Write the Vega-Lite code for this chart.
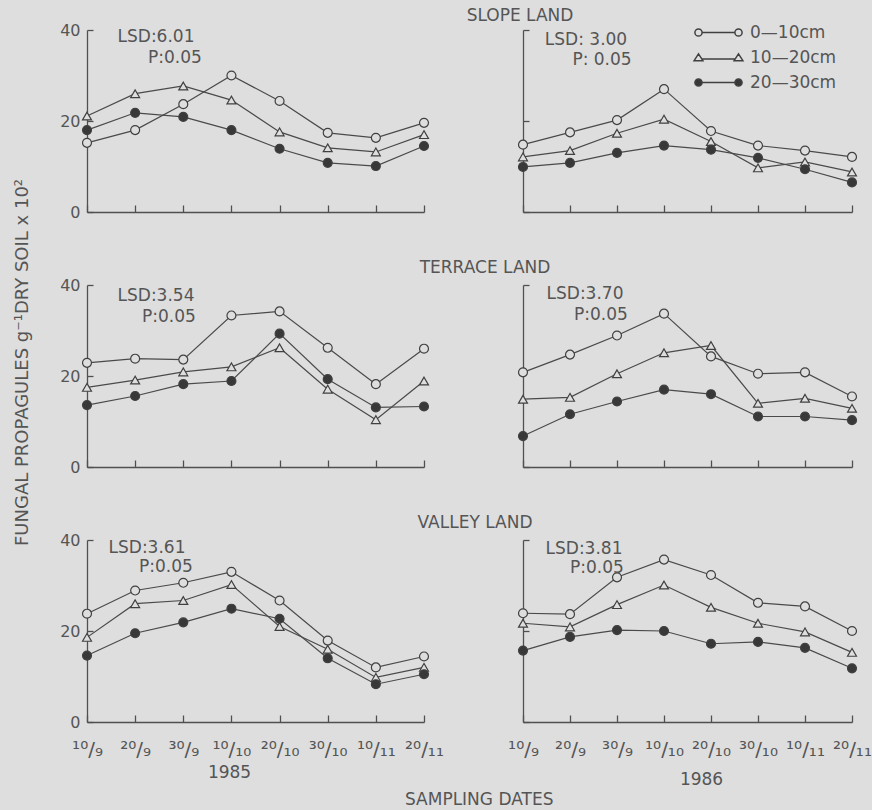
{
"$schema":"https://vega.github.io/schema/vega-lite/v6.json",
"background":"#dedede",
"padding":{"left":12,"top":7,"right":2,"bottom":2},
"datasets":{
"obs":[
{"land":"SLOPE","year":1985,"depth":"0—10cm","date":"10/9","v":15.2},{"land":"SLOPE","year":1985,"depth":"0—10cm","date":"20/9","v":18.0},{"land":"SLOPE","year":1985,"depth":"0—10cm","date":"30/9","v":23.7},{"land":"SLOPE","year":1985,"depth":"0—10cm","date":"10/10","v":30.0},{"land":"SLOPE","year":1985,"depth":"0—10cm","date":"20/10","v":24.4},{"land":"SLOPE","year":1985,"depth":"0—10cm","date":"30/10","v":17.4},{"land":"SLOPE","year":1985,"depth":"0—10cm","date":"10/11","v":16.3},{"land":"SLOPE","year":1985,"depth":"0—10cm","date":"20/11","v":19.6},
{"land":"SLOPE","year":1985,"depth":"10—20cm","date":"10/9","v":21.1},{"land":"SLOPE","year":1985,"depth":"10—20cm","date":"20/9","v":26.0},{"land":"SLOPE","year":1985,"depth":"10—20cm","date":"30/9","v":27.7},{"land":"SLOPE","year":1985,"depth":"10—20cm","date":"10/10","v":24.6},{"land":"SLOPE","year":1985,"depth":"10—20cm","date":"20/10","v":17.6},{"land":"SLOPE","year":1985,"depth":"10—20cm","date":"30/10","v":14.1},{"land":"SLOPE","year":1985,"depth":"10—20cm","date":"10/11","v":13.2},{"land":"SLOPE","year":1985,"depth":"10—20cm","date":"20/11","v":17.0},
{"land":"SLOPE","year":1985,"depth":"20—30cm","date":"10/9","v":18.0},{"land":"SLOPE","year":1985,"depth":"20—30cm","date":"20/9","v":21.8},{"land":"SLOPE","year":1985,"depth":"20—30cm","date":"30/9","v":20.9},{"land":"SLOPE","year":1985,"depth":"20—30cm","date":"10/10","v":18.0},{"land":"SLOPE","year":1985,"depth":"20—30cm","date":"20/10","v":13.9},{"land":"SLOPE","year":1985,"depth":"20—30cm","date":"30/10","v":10.8},{"land":"SLOPE","year":1985,"depth":"20—30cm","date":"10/11","v":10.1},{"land":"SLOPE","year":1985,"depth":"20—30cm","date":"20/11","v":14.5},
{"land":"SLOPE","year":1986,"depth":"0—10cm","date":"10/9","v":14.8},{"land":"SLOPE","year":1986,"depth":"0—10cm","date":"20/9","v":17.5},{"land":"SLOPE","year":1986,"depth":"0—10cm","date":"30/9","v":20.2},{"land":"SLOPE","year":1986,"depth":"0—10cm","date":"10/10","v":27.0},{"land":"SLOPE","year":1986,"depth":"0—10cm","date":"20/10","v":17.8},{"land":"SLOPE","year":1986,"depth":"0—10cm","date":"30/10","v":14.6},{"land":"SLOPE","year":1986,"depth":"0—10cm","date":"10/11","v":13.5},{"land":"SLOPE","year":1986,"depth":"0—10cm","date":"20/11","v":12.1},
{"land":"SLOPE","year":1986,"depth":"10—20cm","date":"10/9","v":12.1},{"land":"SLOPE","year":1986,"depth":"10—20cm","date":"20/9","v":13.5},{"land":"SLOPE","year":1986,"depth":"10—20cm","date":"30/9","v":17.3},{"land":"SLOPE","year":1986,"depth":"10—20cm","date":"10/10","v":20.4},{"land":"SLOPE","year":1986,"depth":"10—20cm","date":"20/10","v":15.5},{"land":"SLOPE","year":1986,"depth":"10—20cm","date":"30/10","v":9.7},{"land":"SLOPE","year":1986,"depth":"10—20cm","date":"10/11","v":11.0},{"land":"SLOPE","year":1986,"depth":"10—20cm","date":"20/11","v":8.8},
{"land":"SLOPE","year":1986,"depth":"20—30cm","date":"10/9","v":9.9},{"land":"SLOPE","year":1986,"depth":"20—30cm","date":"20/9","v":10.8},{"land":"SLOPE","year":1986,"depth":"20—30cm","date":"30/9","v":13.0},{"land":"SLOPE","year":1986,"depth":"20—30cm","date":"10/10","v":14.6},{"land":"SLOPE","year":1986,"depth":"20—30cm","date":"20/10","v":13.7},{"land":"SLOPE","year":1986,"depth":"20—30cm","date":"30/10","v":11.9},{"land":"SLOPE","year":1986,"depth":"20—30cm","date":"10/11","v":9.4},{"land":"SLOPE","year":1986,"depth":"20—30cm","date":"20/11","v":6.5},
{"land":"TERRACE","year":1985,"depth":"0—10cm","date":"10/9","v":22.9},{"land":"TERRACE","year":1985,"depth":"0—10cm","date":"20/9","v":23.8},{"land":"TERRACE","year":1985,"depth":"0—10cm","date":"30/9","v":23.6},{"land":"TERRACE","year":1985,"depth":"0—10cm","date":"10/10","v":33.3},{"land":"TERRACE","year":1985,"depth":"0—10cm","date":"20/10","v":34.2},{"land":"TERRACE","year":1985,"depth":"0—10cm","date":"30/10","v":26.2},{"land":"TERRACE","year":1985,"depth":"0—10cm","date":"10/11","v":18.2},{"land":"TERRACE","year":1985,"depth":"0—10cm","date":"20/11","v":26.0},
{"land":"TERRACE","year":1985,"depth":"10—20cm","date":"10/9","v":17.5},{"land":"TERRACE","year":1985,"depth":"10—20cm","date":"20/9","v":19.1},{"land":"TERRACE","year":1985,"depth":"10—20cm","date":"30/9","v":20.9},{"land":"TERRACE","year":1985,"depth":"10—20cm","date":"10/10","v":22.0},{"land":"TERRACE","year":1985,"depth":"10—20cm","date":"20/10","v":26.2},{"land":"TERRACE","year":1985,"depth":"10—20cm","date":"30/10","v":17.1},{"land":"TERRACE","year":1985,"depth":"10—20cm","date":"10/11","v":10.4},{"land":"TERRACE","year":1985,"depth":"10—20cm","date":"20/11","v":18.9},
{"land":"TERRACE","year":1985,"depth":"20—30cm","date":"10/9","v":13.6},{"land":"TERRACE","year":1985,"depth":"20—30cm","date":"20/9","v":15.6},{"land":"TERRACE","year":1985,"depth":"20—30cm","date":"30/9","v":18.2},{"land":"TERRACE","year":1985,"depth":"20—30cm","date":"10/10","v":18.9},{"land":"TERRACE","year":1985,"depth":"20—30cm","date":"20/10","v":29.3},{"land":"TERRACE","year":1985,"depth":"20—30cm","date":"30/10","v":19.3},{"land":"TERRACE","year":1985,"depth":"20—30cm","date":"10/11","v":13.1},{"land":"TERRACE","year":1985,"depth":"20—30cm","date":"20/11","v":13.3},
{"land":"TERRACE","year":1986,"depth":"0—10cm","date":"10/9","v":20.8},{"land":"TERRACE","year":1986,"depth":"0—10cm","date":"20/9","v":24.7},{"land":"TERRACE","year":1986,"depth":"0—10cm","date":"30/9","v":28.9},{"land":"TERRACE","year":1986,"depth":"0—10cm","date":"10/10","v":33.7},{"land":"TERRACE","year":1986,"depth":"0—10cm","date":"20/10","v":24.3},{"land":"TERRACE","year":1986,"depth":"0—10cm","date":"30/10","v":20.5},{"land":"TERRACE","year":1986,"depth":"0—10cm","date":"10/11","v":20.8},{"land":"TERRACE","year":1986,"depth":"0—10cm","date":"20/11","v":15.5},
{"land":"TERRACE","year":1986,"depth":"10—20cm","date":"10/9","v":14.9},{"land":"TERRACE","year":1986,"depth":"10—20cm","date":"20/9","v":15.3},{"land":"TERRACE","year":1986,"depth":"10—20cm","date":"30/9","v":20.5},{"land":"TERRACE","year":1986,"depth":"10—20cm","date":"10/10","v":25.1},{"land":"TERRACE","year":1986,"depth":"10—20cm","date":"20/10","v":26.7},{"land":"TERRACE","year":1986,"depth":"10—20cm","date":"30/10","v":14.0},{"land":"TERRACE","year":1986,"depth":"10—20cm","date":"10/11","v":15.1},{"land":"TERRACE","year":1986,"depth":"10—20cm","date":"20/11","v":12.9},
{"land":"TERRACE","year":1986,"depth":"20—30cm","date":"10/9","v":6.8},{"land":"TERRACE","year":1986,"depth":"20—30cm","date":"20/9","v":11.6},{"land":"TERRACE","year":1986,"depth":"20—30cm","date":"30/9","v":14.4},{"land":"TERRACE","year":1986,"depth":"20—30cm","date":"10/10","v":17.0},{"land":"TERRACE","year":1986,"depth":"20—30cm","date":"20/10","v":16.0},{"land":"TERRACE","year":1986,"depth":"20—30cm","date":"30/10","v":11.1},{"land":"TERRACE","year":1986,"depth":"20—30cm","date":"10/11","v":11.1},{"land":"TERRACE","year":1986,"depth":"20—30cm","date":"20/11","v":10.3},
{"land":"VALLEY","year":1985,"depth":"0—10cm","date":"10/9","v":23.8},{"land":"VALLEY","year":1985,"depth":"0—10cm","date":"20/9","v":28.9},{"land":"VALLEY","year":1985,"depth":"0—10cm","date":"30/9","v":30.6},{"land":"VALLEY","year":1985,"depth":"0—10cm","date":"10/10","v":33.0},{"land":"VALLEY","year":1985,"depth":"0—10cm","date":"20/10","v":26.7},{"land":"VALLEY","year":1985,"depth":"0—10cm","date":"30/10","v":17.9},{"land":"VALLEY","year":1985,"depth":"0—10cm","date":"10/11","v":12.0},{"land":"VALLEY","year":1985,"depth":"0—10cm","date":"20/11","v":14.4},
{"land":"VALLEY","year":1985,"depth":"10—20cm","date":"10/9","v":18.6},{"land":"VALLEY","year":1985,"depth":"10—20cm","date":"20/9","v":26.0},{"land":"VALLEY","year":1985,"depth":"10—20cm","date":"30/9","v":26.7},{"land":"VALLEY","year":1985,"depth":"10—20cm","date":"10/10","v":30.2},{"land":"VALLEY","year":1985,"depth":"10—20cm","date":"20/10","v":21.0},{"land":"VALLEY","year":1985,"depth":"10—20cm","date":"30/10","v":16.0},{"land":"VALLEY","year":1985,"depth":"10—20cm","date":"10/11","v":9.8},{"land":"VALLEY","year":1985,"depth":"10—20cm","date":"20/11","v":12.0},
{"land":"VALLEY","year":1985,"depth":"20—30cm","date":"10/9","v":14.6},{"land":"VALLEY","year":1985,"depth":"20—30cm","date":"20/9","v":19.5},{"land":"VALLEY","year":1985,"depth":"20—30cm","date":"30/9","v":21.9},{"land":"VALLEY","year":1985,"depth":"20—30cm","date":"10/10","v":24.9},{"land":"VALLEY","year":1985,"depth":"20—30cm","date":"20/10","v":22.7},{"land":"VALLEY","year":1985,"depth":"20—30cm","date":"30/10","v":14.0},{"land":"VALLEY","year":1985,"depth":"20—30cm","date":"10/11","v":8.3},{"land":"VALLEY","year":1985,"depth":"20—30cm","date":"20/11","v":10.5},
{"land":"VALLEY","year":1986,"depth":"0—10cm","date":"10/9","v":23.9},{"land":"VALLEY","year":1986,"depth":"0—10cm","date":"20/9","v":23.7},{"land":"VALLEY","year":1986,"depth":"0—10cm","date":"30/9","v":31.8},{"land":"VALLEY","year":1986,"depth":"0—10cm","date":"10/10","v":35.7},{"land":"VALLEY","year":1986,"depth":"0—10cm","date":"20/10","v":32.3},{"land":"VALLEY","year":1986,"depth":"0—10cm","date":"30/10","v":26.2},{"land":"VALLEY","year":1986,"depth":"0—10cm","date":"10/11","v":25.4},{"land":"VALLEY","year":1986,"depth":"0—10cm","date":"20/11","v":20.0},
{"land":"VALLEY","year":1986,"depth":"10—20cm","date":"10/9","v":21.7},{"land":"VALLEY","year":1986,"depth":"10—20cm","date":"20/9","v":20.9},{"land":"VALLEY","year":1986,"depth":"10—20cm","date":"30/9","v":25.8},{"land":"VALLEY","year":1986,"depth":"10—20cm","date":"10/10","v":30.1},{"land":"VALLEY","year":1986,"depth":"10—20cm","date":"20/10","v":25.2},{"land":"VALLEY","year":1986,"depth":"10—20cm","date":"30/10","v":21.7},{"land":"VALLEY","year":1986,"depth":"10—20cm","date":"10/11","v":19.8},{"land":"VALLEY","year":1986,"depth":"10—20cm","date":"20/11","v":15.3},
{"land":"VALLEY","year":1986,"depth":"20—30cm","date":"10/9","v":15.7},{"land":"VALLEY","year":1986,"depth":"20—30cm","date":"20/9","v":18.7},{"land":"VALLEY","year":1986,"depth":"20—30cm","date":"30/9","v":20.2},{"land":"VALLEY","year":1986,"depth":"20—30cm","date":"10/10","v":20.0},{"land":"VALLEY","year":1986,"depth":"20—30cm","date":"20/10","v":17.2},{"land":"VALLEY","year":1986,"depth":"20—30cm","date":"30/10","v":17.6},{"land":"VALLEY","year":1986,"depth":"20—30cm","date":"10/11","v":16.3},{"land":"VALLEY","year":1986,"depth":"20—30cm","date":"20/11","v":11.8}
],
"notes":[
{"land":"SLOPE","year":1985,"lsd":"LSD:6.01","p":"P:0.05"},
{"land":"SLOPE","year":1986,"lsd":"LSD: 3.00","p":"P: 0.05"},
{"land":"TERRACE","year":1985,"lsd":"LSD:3.54","p":"P:0.05"},
{"land":"TERRACE","year":1986,"lsd":"LSD:3.70","p":"P:0.05"},
{"land":"VALLEY","year":1985,"lsd":"LSD:3.61","p":"P:0.05"},
{"land":"VALLEY","year":1986,"lsd":"LSD:3.81","p":"P:0.05"}
]
},
"title":{"text":"SAMPLING DATES","orient":"bottom","anchor":"middle","dx":37,"offset":5},
"columns":2,
"spacing":{"row":73,"column":99},
"bounds":"flush",
"concat":[
{"width":337,"height":182,
"layer":[
{"data":{"name":"obs"},"transform":[{"filter":"datum.land==='SLOPE' && datum.year===1985"}],
"mark":{"type":"line","stroke":"#4a4a4a","strokeWidth":1.2},
"encoding":{"x":{"field":"date","type":"ordinal","scale":{"type":"point","padding":0,"domain":["10/9","20/9","30/9","10/10","20/10","30/10","10/11","20/11"]},"axis":{"labels":false,"title":null}},
"y":{"field":"v","type":"quantitative","scale":{"domain":[0,40]},"axis":{"values":[0,20,40],"title":null}},
"detail":{"field":"depth"}}},
{"data":{"name":"obs"},"transform":[{"filter":"datum.land==='SLOPE' && datum.year===1985"}],
"mark":{"type":"point","filled":true,"size":80,"stroke":"#404040","strokeWidth":1.2,"opacity":1},
"encoding":{"x":{"field":"date","type":"ordinal"},"y":{"field":"v","type":"quantitative"},
"shape":{"condition":{"test":"datum.depth === '10—20cm'","value":"triangle-up"},"value":"circle"},
"fill":{"field":"depth","type":"nominal","scale":{"domain":["0—10cm","10—20cm","20—30cm"],"range":["#dedede","#dedede","#383838"]},"legend":{"orient":"none","legendX":623,"legendY":-6,"title":null,"padding":0,"symbolSize":64,"labelOffset":23,"rowPadding":7,"labelFontSize":17,"labelColor":"#555","encode":{"symbols":{"size":{"value":64},"stroke":{"value":"#404040"},"strokeWidth":{"value":1.2}}}}}}},
{"data":{"name":"notes"},"transform":[{"filter":"datum.land==='SLOPE' && datum.year===1985"}],"mark":{"type":"text","align":"center","baseline":"top","dx":69,"dy":-1,"fontSize":17,"fill":"#555"},"encoding":{"x":{"datum":"10/9","type":"ordinal"},"y":{"datum":40,"type":"quantitative"},"text":{"field":"lsd"}}},
{"data":{"name":"notes"},"transform":[{"filter":"datum.land==='SLOPE' && datum.year===1985"}],"mark":{"type":"text","align":"center","baseline":"top","dx":88,"dy":20,"fontSize":17,"fill":"#555"},"encoding":{"x":{"datum":"10/9","type":"ordinal"},"y":{"datum":40,"type":"quantitative"},"text":{"field":"p"}}}
]},
{"width":329,"height":182,
"title":{"text":"SLOPE LAND","frame":"group","anchor":"start","align":"center","dx":-3,"offset":4},
"layer":[
{"data":{"name":"obs"},"transform":[{"filter":"datum.land==='SLOPE' && datum.year===1986"}],
"mark":{"type":"line","stroke":"#4a4a4a","strokeWidth":1.2},
"encoding":{"x":{"field":"date","type":"ordinal","scale":{"type":"point","padding":0,"domain":["10/9","20/9","30/9","10/10","20/10","30/10","10/11","20/11"]},"axis":{"labels":false,"title":null}},
"y":{"field":"v","type":"quantitative","scale":{"domain":[0,40]},"axis":{"values":[0,20,40],"labels":false,"title":null}},
"detail":{"field":"depth"}}},
{"data":{"name":"obs"},"transform":[{"filter":"datum.land==='SLOPE' && datum.year===1986"}],
"mark":{"type":"point","filled":true,"size":80,"stroke":"#404040","strokeWidth":1.2,"opacity":1},
"encoding":{"x":{"field":"date","type":"ordinal"},"y":{"field":"v","type":"quantitative"},
"shape":{"condition":{"test":"datum.depth === '10—20cm'","value":"triangle-up"},"value":"circle"},
"fill":{"field":"depth","type":"nominal","scale":{"domain":["0—10cm","10—20cm","20—30cm"],"range":["#dedede","#dedede","#383838"]},"legend":{"orient":"none","legendX":623,"legendY":-6,"title":null,"padding":0,"symbolSize":64,"labelOffset":23,"rowPadding":7,"labelFontSize":17,"labelColor":"#555","encode":{"symbols":{"size":{"value":64},"stroke":{"value":"#404040"},"strokeWidth":{"value":1.2}}}}}}},
{"data":{"name":"obs"},"transform":[{"filter":"false"}],
"mark":{"type":"point","filled":true,"size":64,"stroke":"#404040","strokeWidth":1.2,"opacity":1},
"encoding":{"x":{"field":"date","type":"ordinal"},"y":{"field":"v","type":"quantitative"},
"shape":{"field":"depth","type":"nominal","scale":{"domain":["0—10cm","10—20cm","20—30cm"],"range":["M-4.1,0L4.1,0M-4.1,0A0.9,0.9,0,1,1,-5.9,0A0.9,0.9,0,1,1,-4.1,0ZM5.9,0A0.9,0.9,0,1,1,4.1,0A0.9,0.9,0,1,1,5.9,0Z","M-4.1,0.4L4.1,0.4M-5,-0.9L-3.9,0.8L-6.1,0.8ZM5,-0.9L6.1,0.8L3.9,0.8Z","M-4.1,0L4.1,0M-4.1,0A0.9,0.9,0,1,1,-5.9,0A0.9,0.9,0,1,1,-4.1,0ZM5.9,0A0.9,0.9,0,1,1,4.1,0A0.9,0.9,0,1,1,5.9,0Z"]},"legend":{"orient":"none","legendX":623,"legendY":-6,"title":null,"padding":0,"symbolSize":64,"labelOffset":23,"rowPadding":7,"labelFontSize":17,"labelColor":"#555","encode":{"symbols":{"size":{"value":64},"stroke":{"value":"#404040"},"strokeWidth":{"value":1.2}}}}},
"fill":{"field":"depth","type":"nominal"}}},
{"data":{"name":"notes"},"transform":[{"filter":"datum.land==='SLOPE' && datum.year===1986"}],"mark":{"type":"text","align":"center","baseline":"top","dx":63,"dy":2,"fontSize":17,"fill":"#555"},"encoding":{"x":{"datum":"10/9","type":"ordinal"},"y":{"datum":40,"type":"quantitative"},"text":{"field":"lsd"}}},
{"data":{"name":"notes"},"transform":[{"filter":"datum.land==='SLOPE' && datum.year===1986"}],"mark":{"type":"text","align":"center","baseline":"top","dx":79,"dy":22,"fontSize":17,"fill":"#555"},"encoding":{"x":{"datum":"10/9","type":"ordinal"},"y":{"datum":40,"type":"quantitative"},"text":{"field":"p"}}}
]},
{"width":337,"height":182,
"layer":[
{"data":{"name":"obs"},"transform":[{"filter":"datum.land==='TERRACE' && datum.year===1985"}],
"mark":{"type":"line","stroke":"#4a4a4a","strokeWidth":1.2},
"encoding":{"x":{"field":"date","type":"ordinal","scale":{"type":"point","padding":0,"domain":["10/9","20/9","30/9","10/10","20/10","30/10","10/11","20/11"]},"axis":{"labels":false,"title":null}},
"y":{"field":"v","type":"quantitative","scale":{"domain":[0,40]},"axis":{"values":[0,20,40],"title":"FUNGAL PROPAGULES g⁻¹DRY SOIL x 10²","titleX":-56,"titleY":77,"titleFontSize":18}},
"detail":{"field":"depth"}}},
{"data":{"name":"obs"},"transform":[{"filter":"datum.land==='TERRACE' && datum.year===1985"}],
"mark":{"type":"point","filled":true,"size":80,"stroke":"#404040","strokeWidth":1.2,"opacity":1},
"encoding":{"x":{"field":"date","type":"ordinal"},"y":{"field":"v","type":"quantitative"},
"shape":{"condition":{"test":"datum.depth === '10—20cm'","value":"triangle-up"},"value":"circle"},
"fill":{"field":"depth","type":"nominal","scale":{"domain":["0—10cm","10—20cm","20—30cm"],"range":["#dedede","#dedede","#383838"]},"legend":{"orient":"none","legendX":623,"legendY":-6,"title":null,"padding":0,"symbolSize":64,"labelOffset":23,"rowPadding":7,"labelFontSize":17,"labelColor":"#555","encode":{"symbols":{"size":{"value":64},"stroke":{"value":"#404040"},"strokeWidth":{"value":1.2}}}}}}},
{"data":{"name":"notes"},"transform":[{"filter":"datum.land==='TERRACE' && datum.year===1985"}],"mark":{"type":"text","align":"center","baseline":"top","dx":69,"dy":3,"fontSize":17,"fill":"#555"},"encoding":{"x":{"datum":"10/9","type":"ordinal"},"y":{"datum":40,"type":"quantitative"},"text":{"field":"lsd"}}},
{"data":{"name":"notes"},"transform":[{"filter":"datum.land==='TERRACE' && datum.year===1985"}],"mark":{"type":"text","align":"center","baseline":"top","dx":82,"dy":24,"fontSize":17,"fill":"#555"},"encoding":{"x":{"datum":"10/9","type":"ordinal"},"y":{"datum":40,"type":"quantitative"},"text":{"field":"p"}}}
]},
{"width":329,"height":182,
"title":{"text":"TERRACE LAND","frame":"group","anchor":"start","align":"center","dx":-38,"offset":7},
"layer":[
{"data":{"name":"obs"},"transform":[{"filter":"datum.land==='TERRACE' && datum.year===1986"}],
"mark":{"type":"line","stroke":"#4a4a4a","strokeWidth":1.2},
"encoding":{"x":{"field":"date","type":"ordinal","scale":{"type":"point","padding":0,"domain":["10/9","20/9","30/9","10/10","20/10","30/10","10/11","20/11"]},"axis":{"labels":false,"title":null}},
"y":{"field":"v","type":"quantitative","scale":{"domain":[0,40]},"axis":{"values":[0,40],"labels":false,"title":null}},
"detail":{"field":"depth"}}},
{"data":{"name":"obs"},"transform":[{"filter":"datum.land==='TERRACE' && datum.year===1986"}],
"mark":{"type":"point","filled":true,"size":80,"stroke":"#404040","strokeWidth":1.2,"opacity":1},
"encoding":{"x":{"field":"date","type":"ordinal"},"y":{"field":"v","type":"quantitative"},
"shape":{"condition":{"test":"datum.depth === '10—20cm'","value":"triangle-up"},"value":"circle"},
"fill":{"field":"depth","type":"nominal","scale":{"domain":["0—10cm","10—20cm","20—30cm"],"range":["#dedede","#dedede","#383838"]},"legend":{"orient":"none","legendX":623,"legendY":-6,"title":null,"padding":0,"symbolSize":64,"labelOffset":23,"rowPadding":7,"labelFontSize":17,"labelColor":"#555","encode":{"symbols":{"size":{"value":64},"stroke":{"value":"#404040"},"strokeWidth":{"value":1.2}}}}}}},
{"data":{"name":"notes"},"transform":[{"filter":"datum.land==='TERRACE' && datum.year===1986"}],"mark":{"type":"text","align":"center","baseline":"top","dx":62,"dy":1,"fontSize":17,"fill":"#555"},"encoding":{"x":{"datum":"10/9","type":"ordinal"},"y":{"datum":40,"type":"quantitative"},"text":{"field":"lsd"}}},
{"data":{"name":"notes"},"transform":[{"filter":"datum.land==='TERRACE' && datum.year===1986"}],"mark":{"type":"text","align":"center","baseline":"top","dx":78,"dy":22,"fontSize":17,"fill":"#555"},"encoding":{"x":{"datum":"10/9","type":"ordinal"},"y":{"datum":40,"type":"quantitative"},"text":{"field":"p"}}}
]},
{"width":337,"height":182,
"layer":[
{"data":{"name":"obs"},"transform":[{"filter":"datum.land==='VALLEY' && datum.year===1985"}],
"mark":{"type":"line","stroke":"#4a4a4a","strokeWidth":1.2},
"encoding":{"x":{"field":"date","type":"ordinal","scale":{"type":"point","padding":0,"domain":["10/9","20/9","30/9","10/10","20/10","30/10","10/11","20/11"]},"axis":{"labels":true,"labelExpr":"{'10/9':'¹⁰/₉','20/9':'²⁰/₉','30/9':'³⁰/₉','10/10':'¹⁰/₁₀','20/10':'²⁰/₁₀','30/10':'³⁰/₁₀','10/11':'¹⁰/₁₁','20/11':'²⁰/₁₁'}[datum.label]","title":"1985","titleX":142,"titleY":42}},
"y":{"field":"v","type":"quantitative","scale":{"domain":[0,40]},"axis":{"values":[0,20,40],"title":null}},
"detail":{"field":"depth"}}},
{"data":{"name":"obs"},"transform":[{"filter":"datum.land==='VALLEY' && datum.year===1985"}],
"mark":{"type":"point","filled":true,"size":80,"stroke":"#404040","strokeWidth":1.2,"opacity":1},
"encoding":{"x":{"field":"date","type":"ordinal"},"y":{"field":"v","type":"quantitative"},
"shape":{"condition":{"test":"datum.depth === '10—20cm'","value":"triangle-up"},"value":"circle"},
"fill":{"field":"depth","type":"nominal","scale":{"domain":["0—10cm","10—20cm","20—30cm"],"range":["#dedede","#dedede","#383838"]},"legend":{"orient":"none","legendX":623,"legendY":-6,"title":null,"padding":0,"symbolSize":64,"labelOffset":23,"rowPadding":7,"labelFontSize":17,"labelColor":"#555","encode":{"symbols":{"size":{"value":64},"stroke":{"value":"#404040"},"strokeWidth":{"value":1.2}}}}}}},
{"data":{"name":"notes"},"transform":[{"filter":"datum.land==='VALLEY' && datum.year===1985"}],"mark":{"type":"text","align":"center","baseline":"top","dx":60,"dy":0,"fontSize":17,"fill":"#555"},"encoding":{"x":{"datum":"10/9","type":"ordinal"},"y":{"datum":40,"type":"quantitative"},"text":{"field":"lsd"}}},
{"data":{"name":"notes"},"transform":[{"filter":"datum.land==='VALLEY' && datum.year===1985"}],"mark":{"type":"text","align":"center","baseline":"top","dx":79,"dy":19,"fontSize":17,"fill":"#555"},"encoding":{"x":{"datum":"10/9","type":"ordinal"},"y":{"datum":40,"type":"quantitative"},"text":{"field":"p"}}}
]},
{"width":329,"height":182,
"title":{"text":"VALLEY LAND","frame":"group","anchor":"start","align":"center","dx":-48,"offset":7},
"layer":[
{"data":{"name":"obs"},"transform":[{"filter":"datum.land==='VALLEY' && datum.year===1986"}],
"mark":{"type":"line","stroke":"#4a4a4a","strokeWidth":1.2},
"encoding":{"x":{"field":"date","type":"ordinal","scale":{"type":"point","padding":0,"domain":["10/9","20/9","30/9","10/10","20/10","30/10","10/11","20/11"]},"axis":{"labels":true,"labelExpr":"{'10/9':'¹⁰/₉','20/9':'²⁰/₉','30/9':'³⁰/₉','10/10':'¹⁰/₁₀','20/10':'²⁰/₁₀','30/10':'³⁰/₁₀','10/11':'¹⁰/₁₁','20/11':'²⁰/₁₁'}[datum.label]","title":"1986","titleX":178,"titleY":49}},
"y":{"field":"v","type":"quantitative","scale":{"domain":[0,40]},"axis":{"values":[0,20,40],"labels":false,"title":null}},
"detail":{"field":"depth"}}},
{"data":{"name":"obs"},"transform":[{"filter":"datum.land==='VALLEY' && datum.year===1986"}],
"mark":{"type":"point","filled":true,"size":80,"stroke":"#404040","strokeWidth":1.2,"opacity":1},
"encoding":{"x":{"field":"date","type":"ordinal"},"y":{"field":"v","type":"quantitative"},
"shape":{"condition":{"test":"datum.depth === '10—20cm'","value":"triangle-up"},"value":"circle"},
"fill":{"field":"depth","type":"nominal","scale":{"domain":["0—10cm","10—20cm","20—30cm"],"range":["#dedede","#dedede","#383838"]},"legend":{"orient":"none","legendX":623,"legendY":-6,"title":null,"padding":0,"symbolSize":64,"labelOffset":23,"rowPadding":7,"labelFontSize":17,"labelColor":"#555","encode":{"symbols":{"size":{"value":64},"stroke":{"value":"#404040"},"strokeWidth":{"value":1.2}}}}}}},
{"data":{"name":"notes"},"transform":[{"filter":"datum.land==='VALLEY' && datum.year===1986"}],"mark":{"type":"text","align":"center","baseline":"top","dx":61,"dy":1,"fontSize":17,"fill":"#555"},"encoding":{"x":{"datum":"10/9","type":"ordinal"},"y":{"datum":40,"type":"quantitative"},"text":{"field":"lsd"}}},
{"data":{"name":"notes"},"transform":[{"filter":"datum.land==='VALLEY' && datum.year===1986"}],"mark":{"type":"text","align":"center","baseline":"top","dx":74,"dy":20,"fontSize":17,"fill":"#555"},"encoding":{"x":{"datum":"10/9","type":"ordinal"},"y":{"datum":40,"type":"quantitative"},"text":{"field":"p"}}}
]}
],
"config":{
"font":"DejaVu Sans",
"view":{"stroke":null},
"title":{"fontSize":17,"fontWeight":"normal","color":"#555","font":"DejaVu Sans"},
"axis":{"grid":false,"domainColor":"#505050","tickColor":"#505050","domainWidth":1.3,"tickWidth":1.3,"labelColor":"#555","titleColor":"#555","labelFont":"DejaVu Sans","titleFont":"DejaVu Sans","titleFontWeight":"normal","titleFontSize":17,"labelFontSize":16},
"axisX":{"tickSize":-7,"labelPadding":24,"labelAngle":0,"labelFontSize":20},
"axisY":{"tickSize":-6,"labelPadding":13},
"legend":{"labelFont":"DejaVu Sans"}
}
}
